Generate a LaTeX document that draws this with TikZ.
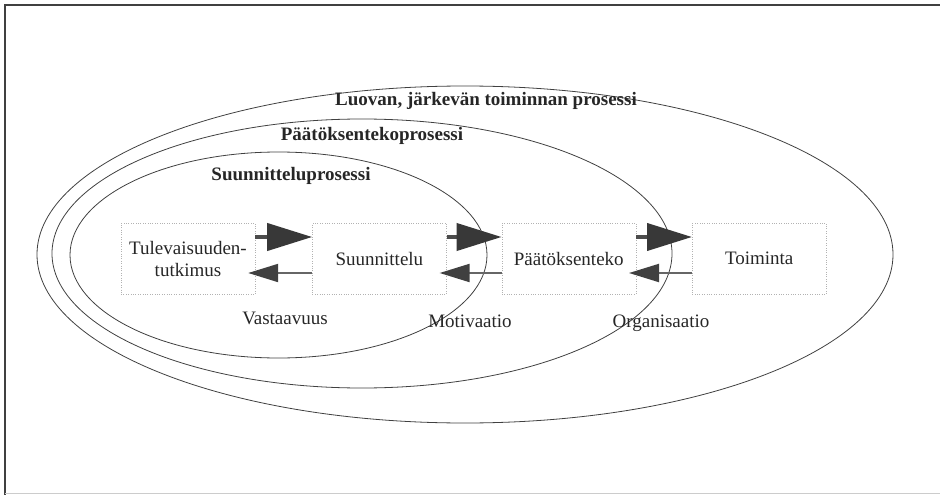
\documentclass[tikz,border=0pt]{standalone}
\usepackage{fontspec}
\setmainfont{Liberation Serif}
\usetikzlibrary{positioning, arrows.meta}

\begin{document}
\begin{tikzpicture}[x=1pt, y=-1pt,
        font=\fontsize{19}{22}\selectfont, text=black!85,
        boxnode/.style={draw=black!30, dotted, minimum width=134pt, minimum height=71pt, inner sep=0pt, align=center},
        rimlabel/.style={font=\fontsize{19}{22}\selectfont\bfseries},
        ring/.style={draw=black!75, line width=0.8pt},
        fwdarrow/.style={draw=black!70, line width=4pt, -{Triangle[length=45pt, width=27pt, color=black!78]}},
        backarrow/.style={draw=black!60, line width=2pt, -{Triangle[length=30pt, width=18pt, color=black!75]}}
    ]
    \useasboundingbox (0,0) rectangle (940,495);
    \draw[black!75, line width=2pt] (5,495) -- (5,5) -- (940,5);
    \draw[black!20, line width=1pt] (5,493) -- (940,493);
    % process rings
    \draw[ring] (465,254.5) ellipse [x radius=428pt, y radius=168.5pt];
    \draw[ring] (362,253.5) ellipse [x radius=310pt, y radius=134.5pt];
    \draw[ring] (278.5,255) ellipse [x radius=208.5pt, y radius=103pt];
    \node[rimlabel] (luovan) at (486,101) {Luovan, järkevän toiminnan prosessi};
    \node[rimlabel] (paatosprosessi) at (372,136) {Päätöksentekoprosessi};
    \node[rimlabel] (suunnprosessi) at (291,176) {Suunnitteluprosessi};
    % steps
    \node[boxnode] (tul) at (188,258.5) {Tulevaisuuden-\\tutkimus};
    \node[boxnode, right=57pt of tul] (suu) {Suunnittelu};
    \node[boxnode, right=55pt of suu] (paa) {Päätöksenteko};
    \node[boxnode, right=56pt of paa] (toi) {Toiminta};
    \draw[fwdarrow] ([yshift=21.5pt]tul.east) -- ([yshift=21.5pt]suu.west);
    \draw[fwdarrow] ([yshift=21.5pt]suu.east) -- ([yshift=21.5pt]paa.west);
    \draw[fwdarrow] ([yshift=21.5pt]paa.east) -- ([yshift=21.5pt]toi.west);
    \draw[backarrow, shorten >=-7pt] ([yshift=-14.5pt]suu.west) -- ([yshift=-14.5pt]tul.east);
    \draw[backarrow, shorten >=-7pt] ([yshift=-14.5pt]paa.west) -- ([yshift=-14.5pt]suu.east);
    \draw[backarrow, shorten >=-7pt] ([yshift=-14.5pt]toi.west) -- ([yshift=-14.5pt]paa.east);
    \node (vast) at (285,318) {Vastaavuus};
    \node (moti) at (470,321) {Motivaatio};
    \node (orga) at (661,323) {Organisaatio};
\end{tikzpicture}
\end{document}
